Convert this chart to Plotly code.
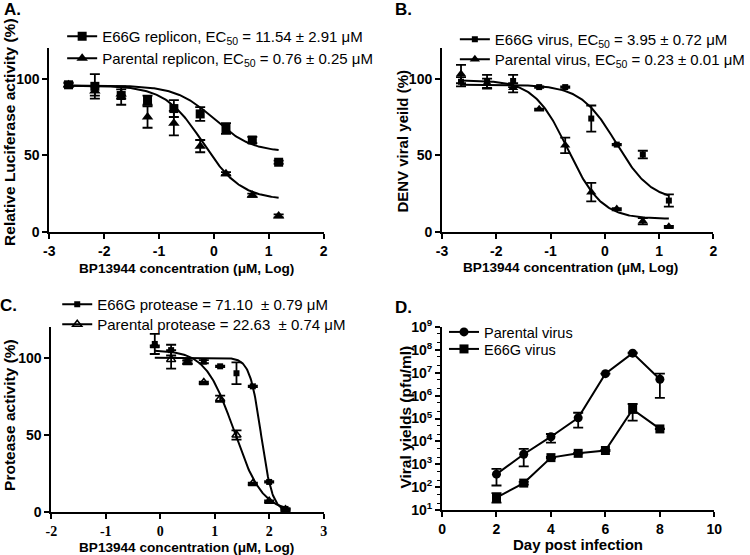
import numpy as np
import plotly.graph_objects as go

# ---------------- Data ----------------
# Panel A: replicon assay
A_x = [-2.65, -2.17, -1.69, -1.21, -0.73, -0.25, 0.22, 0.70, 1.18]
A_e66g = [96, 95, 89, 86, 80.5, 77, 67.5, 60, 45.5]
A_e66g_err = [1, 8, 6, 3, 5.5, 4.5, 3.5, 2, 1]
A_par = [96, 92, 90, 75, 71, 56, 38, 24, 10.5]
A_par_err = [1.5, 3, 3, 7, 8, 4, 1, 1, 1]
A_fit_e66g = dict(top=95.5, bottom=52, logec=0.0, hill=1.25)
A_fit_par = dict(top=95.5, bottom=21, logec=-0.2, hill=1.25)

# Panel B: virus yield
B_x = [-2.65, -2.17, -1.69, -1.21, -0.73, -0.25, 0.22, 0.70, 1.18]
B_e66g = [98, 98, 98.5, 94.5, 94.5, 74, 57, 50.5, 20.5]
B_e66g_err = [3, 4.5, 4, 0.5, 0.5, 8.5, 0.5, 2.5, 4]
B_par = [103, 97, 94, 80, 56.5, 26, 15, 7, 3.5]
B_par_err = [6, 3, 3, 0.5, 5, 6, 0.5, 2, 0.5]
B_fit_e66g = dict(top=96, bottom=20, logec=0.21, hill=1.33)
B_fit_par = dict(top=99, bottom=8.5, logec=-0.68, hill=1.4)

# Panel C: protease assay
C_x = [-0.1, 0.2, 0.5, 0.8, 1.1, 1.4, 1.7, 2.0, 2.3]
C_e66g = [109, 105, 97.5, 97.5, 94.5, 90, 81.5, 19.5, 2]
C_e66g_err = [6.5, 3.5, 1, 1, 0.5, 7, 0.5, 0.5, 0.5]
C_par = [108, 99, 97, 84, 73.5, 50, 18.5, 7, 1.5]
C_par_err = [0, 6, 1, 0.5, 2, 3, 0.5, 0.5, 0.5]
C_fit_e66g = dict(top=100, bottom=0, logec=1.852, hill=4.2)
C_fit_par = dict(top=105, bottom=0, logec=1.355, hill=1.67)

# Panel D: growth kinetics
D_days = [2, 3, 4, 5, 6, 7, 8]
D_par = [370, 2750, 16000, 107000, 9.1e6, 7.2e7, 5.2e6]
D_par_hi = [630, 4700, 21000, 178000, 9.1e6, 7.5e7, 9.1e6]
D_par_lo = [118, 800, 8900, 40000, 9.1e6, 7.0e7, 8.0e5]
D_e66g = [35, 150, 1950, 3000, 4000, 250000, 35000]
D_e66g_hi = [55, 170, 2100, 3100, 4200, 430000, 36000]
D_e66g_lo = [21, 130, 1800, 2900, 3800, 80000, 34000]

# Tick labels
AB_xticks = [-3, -2, -1, 0, 1, 2]
C_xticks = [-2, -1, 0, 1, 2, 3]
pct_ticks = [0, 50, 100]
D_xticks = [0, 2, 4, 6, 8, 10]
D_yexp = list(range(1, 10))

# ---------------- Helpers ----------------
FONT = "Liberation Sans, Arial, sans-serif"
SERIF = "Liberation Serif, Times New Roman, serif"
W, H = 750, 555


def fit_curve(p, x0, x1, n=200):
    xs = np.linspace(x0, x1, n)
    ys = p["bottom"] + (p["top"] - p["bottom"]) / (1 + 10 ** ((xs - p["logec"]) * p["hill"]))
    return xs, ys


def err(arr, w=5):
    return dict(type="data", array=arr, visible=True, color="black", thickness=1.8, width=w)


def px_x(p):
    return p / W


def px_y(p):
    return 1 - p / H


fig = go.Figure()

domains = {
    "": dict(x=[px_x(50), px_x(328)], y=[px_y(232), px_y(48)]),
    "2": dict(x=[px_x(448), px_x(723)], y=[px_y(232), px_y(48)]),
    "3": dict(x=[px_x(52), px_x(328)], y=[px_y(512), px_y(327)]),
    "4": dict(x=[px_x(448), px_x(724)], y=[px_y(510), px_y(327)]),
}


def add_dose_panel(k, xs, y1, e1, y2, e2, f1, f2, cx0, cx1, m1, m2, legs, names):
    xa, ya = "x" + k, "y" + k
    for p in (f1, f2):
        cx, cy = fit_curve(p, cx0, cx1)
        fig.add_trace(go.Scatter(x=cx, y=cy, mode="lines", line=dict(color="black", width=2),
                                 xaxis=xa, yaxis=ya, showlegend=False, hoverinfo="skip"))
    fig.add_trace(go.Scatter(x=xs, y=y1, mode="markers", error_y=err(e1), marker=m1,
                             xaxis=xa, yaxis=ya, showlegend=False, cliponaxis=False))
    fig.add_trace(go.Scatter(x=xs, y=y2, mode="markers", error_y=err(e2), marker=m2,
                             xaxis=xa, yaxis=ya, showlegend=False, cliponaxis=False))
    fig.add_trace(go.Scatter(x=[None], y=[None], mode="lines+markers", name=names[0],
                             line=dict(color="black", width=2), marker=m1,
                             xaxis=xa, yaxis=ya, legend=legs[0]))
    fig.add_trace(go.Scatter(x=[None], y=[None], mode="lines+markers", name=names[1],
                             line=dict(color="black", width=2), marker=m2,
                             xaxis=xa, yaxis=ya, legend=legs[1]))


sq_big = dict(symbol="square", size=9, color="black")
tri_big = dict(symbol="triangle-up", size=10, color="black")
sq_small = dict(symbol="square", size=6, color="black")
tri_small = dict(symbol="triangle-up", size=9, color="black")
tri_open = dict(symbol="triangle-up-open", size=8, color="black", line=dict(width=1.5, color="black"))

add_dose_panel("", A_x, A_e66g, A_e66g_err, A_par, A_par_err, A_fit_e66g, A_fit_par,
               -2.65, 1.18, sq_big, tri_big, ["legend", "legend2"],
               ["E66G replicon, EC<sub>50</sub> = 11.54 ± 2.91 μM",
                "Parental replicon, EC<sub>50</sub> = 0.76 ± 0.25 μM"])
add_dose_panel("2", B_x, B_e66g, B_e66g_err, B_par, B_par_err, B_fit_e66g, B_fit_par,
               -2.65, 1.18, sq_small, tri_small, ["legend3", "legend4"],
               ["E66G virus, EC<sub>50</sub> = 3.95 ± 0.72 μM",
                "Parental virus, EC<sub>50</sub> = 0.23 ± 0.01 μM"])
add_dose_panel("3", C_x, C_e66g, C_e66g_err, C_par, C_par_err, C_fit_e66g, C_fit_par,
               -0.1, 2.33, sq_small, tri_open, ["legend5", "legend6"],
               ["E66G protease = 71.10\u00a0 ± 0.79 μM",
                "Parental protease = 22.63\u00a0 ± 0.74 μM"])

# Panel D
circ = dict(symbol="circle", size=9, color="black")
sqD = dict(symbol="square", size=9, color="black")
fig.add_trace(go.Scatter(x=D_days, y=D_par, mode="lines+markers", name="Parental virus",
                         line=dict(color="black", width=2), marker=circ,
                         error_y=dict(type="data", symmetric=False,
                                      array=[h - v for h, v in zip(D_par_hi, D_par)],
                                      arrayminus=[v - l for v, l in zip(D_par, D_par_lo)],
                                      color="black", thickness=1.8, width=5),
                         xaxis="x4", yaxis="y4", legend="legend7", cliponaxis=False))
fig.add_trace(go.Scatter(x=D_days, y=D_e66g, mode="lines+markers", name="E66G virus",
                         line=dict(color="black", width=2), marker=sqD,
                         error_y=dict(type="data", symmetric=False,
                                      array=[h - v for h, v in zip(D_e66g_hi, D_e66g)],
                                      arrayminus=[v - l for v, l in zip(D_e66g, D_e66g_lo)],
                                      color="black", thickness=1.8, width=5),
                         xaxis="x4", yaxis="y4", legend="legend8", cliponaxis=False))

# ---------------- Axes ----------------
tickfont = dict(family=FONT, size=14, color="black", weight="bold")
axis_common = dict(showline=True, linewidth=2, linecolor="black", ticks="outside",
                   ticklen=5, tickwidth=2, tickcolor="black", showgrid=False,
                   zeroline=False, tickfont=tickfont, automargin=False)

layout_axes = {}
for k in ["", "2", "3", "4"]:
    layout_axes["xaxis" + k] = dict(domain=domains[k]["x"], anchor="y" + k, **axis_common)
    layout_axes["yaxis" + k] = dict(domain=domains[k]["y"], anchor="x" + k, **axis_common)


def labels(vals):
    return [str(v) for v in vals]


layout_axes["xaxis"].update(range=[-3, 2], tickvals=AB_xticks, ticktext=labels(AB_xticks))
layout_axes["yaxis"].update(range=[0, 120], tickvals=pct_ticks, ticktext=labels(pct_ticks))
layout_axes["xaxis2"].update(range=[-3, 2], tickvals=AB_xticks, ticktext=labels(AB_xticks))
layout_axes["yaxis2"].update(range=[0, 120], tickvals=pct_ticks, ticktext=labels(pct_ticks))
layout_axes["xaxis3"].update(range=[-2, 3], tickvals=C_xticks, ticktext=labels(C_xticks),
                             tickfont=dict(family=SERIF, size=14, color="black", weight="bold"))
layout_axes["yaxis3"].update(range=[0, 120], tickvals=pct_ticks, ticktext=labels(pct_ticks))
layout_axes["xaxis4"].update(range=[0, 10], tickvals=D_xticks, ticktext=labels(D_xticks))
layout_axes["yaxis4"].update(type="log", range=[1, 9],
                             tickvals=[10 ** i for i in D_yexp],
                             ticktext=["10<sup>%d</sup>" % i for i in D_yexp],
                             minor=dict(ticks="outside", ticklen=3, tickwidth=1,
                                        tickcolor="black", showgrid=False))


# ---------------- Legends ----------------
def legend_at(xpx, ypx, size=15):
    return dict(x=xpx / W, y=1 - ypx / H, xanchor="left", yanchor="top",
                bgcolor="rgba(0,0,0,0)", font=dict(family=FONT, size=size, color="black"),
                tracegroupgap=0, itemwidth=30, borderwidth=0)


# ---------------- Annotations ----------------
def ann(text, xpx, ypx, size, angle=0, bold=True, family=FONT):
    return dict(text=text, x=xpx / W, y=1 - ypx / H, xref="paper", yref="paper",
                showarrow=False, textangle=angle, xanchor="center", yanchor="middle",
                font=dict(family=family, size=size, color="black",
                          weight="bold" if bold else "normal"))


annotations = [
    ann("A.", 13, 9, 17),
    ann("B.", 409, 9, 17),
    ann("C.", 9, 305, 17),
    ann("D.", 409, 307, 17),
    ann("BP13944 concentration (μM, Log)", 189, 268, 13.6),
    ann("BP13944 concentration (μM, Log)", 578, 267, 13.6),
    ann("BP13944 concentration (μM, Log)", 189, 547, 13.6),
    ann("Day post infection", 586, 544, 15),
    ann("Relative Luciferase activity (%)", 9, 132, 15.5, angle=-90),
    ann("DENV viral yeild (%)", 407, 141, 15, angle=-90),
    ann("Protease activity (%)", 9, 415, 15.5, angle=-90),
    ann("Viral yields (pfu/ml)", 410, 417, 15.5, angle=-90),
]

fig.update_layout(
    template="none",
    width=W, height=H,
    margin=dict(l=0, r=0, t=0, b=0),
    paper_bgcolor="white", plot_bgcolor="white",
    font=dict(family=FONT, color="black"),
    annotations=annotations,
    legend=legend_at(63, 20),
    legend2=legend_at(63, 42),
    legend3=legend_at(461, 23),
    legend4=legend_at(461, 43),
    legend5=legend_at(58, 288),
    legend6=legend_at(58, 308),
    legend7=legend_at(450, 316, 14.5),
    legend8=legend_at(450, 333, 14.5),
    **layout_axes,
)

fig.write_html("out.html", config={"displayModeBar": False},
               post_script="document.body.style.margin='0';document.body.style.overflow='hidden';")
